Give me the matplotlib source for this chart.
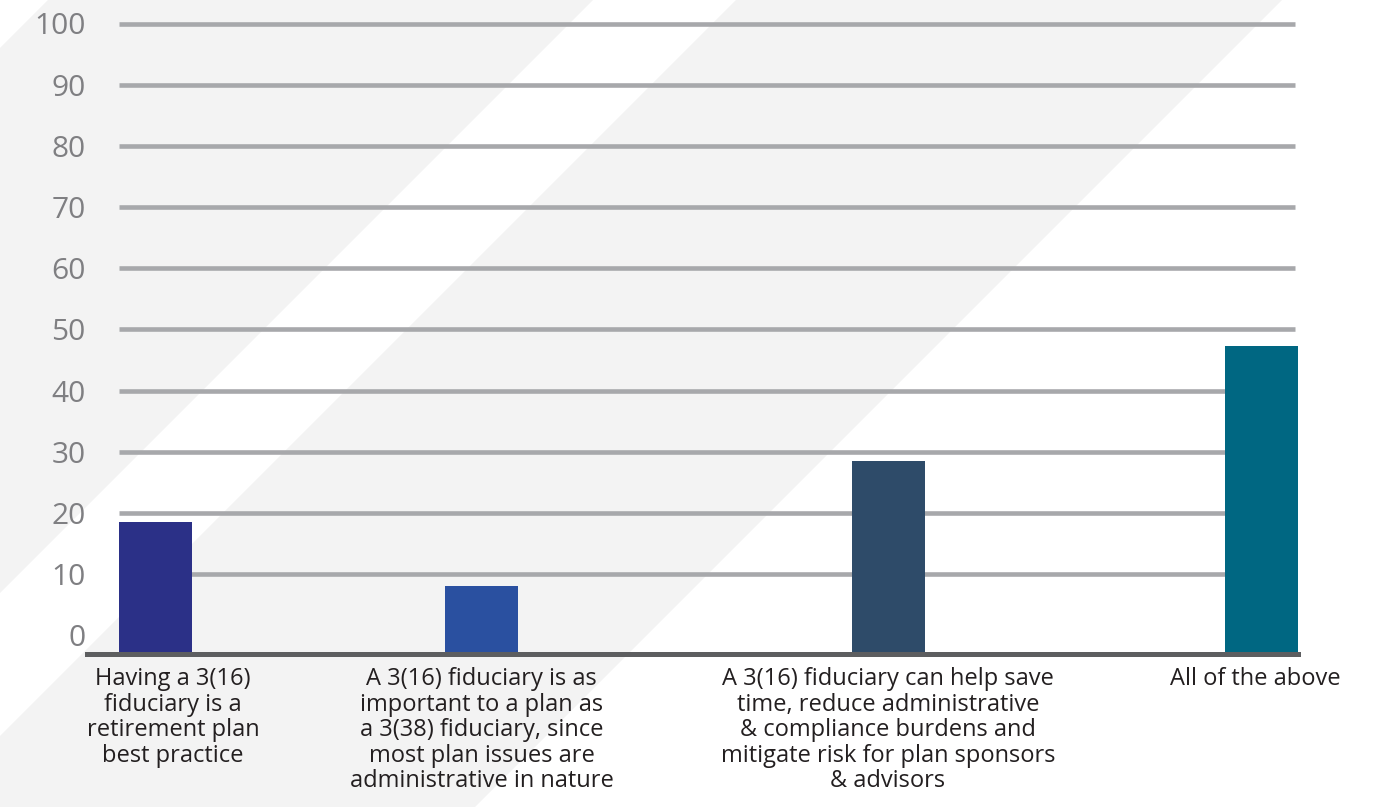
import matplotlib
matplotlib.use("Agg")
import matplotlib.pyplot as plt
from matplotlib.patches import Polygon

# ---- data ----
categories = [
    "Having a 3(16)\nfiduciary is a\nretirement plan\nbest practice",
    "A 3(16) fiduciary is as\nimportant to a plan as\na 3(38) fiduciary, since\nmost plan issues are\nadministrative in nature",
    "A 3(16) fiduciary can help save\ntime, reduce administrative\n& compliance burdens and\nmitigate risk for plan sponsors\n& advisors",
    "All of the above",
]
values = [18.5, 8.0, 28.5, 47.3]
yticks = [0, 10, 20, 30, 40, 50, 60, 70, 80, 90, 100]

# ---- layout / style ----
W, H = 1381, 807
bar_centers = [155.5, 481.5, 888.5, 1261.5]
label_centers = [173, 481.5, 888, 1255.5]
bar_width = 73
bar_colors = ["#2b3087", "#2a50a0", "#2e4b69", "#006782"]
grid_x0, grid_x1 = 119, 1295
ax_left, ax_right = 87, 1298
y_top_px, y_zero_px, y_base_px = 23.5, 635.2, 654.0
px_per_unit = (y_zero_px - y_top_px) / 100.0
ymin = -(y_base_px - y_zero_px) / px_per_unit

plt.rcParams['font.family'] = ['Open Sans', 'DejaVu Sans']

fig = plt.figure(figsize=(W / 100, H / 100), dpi=100)
fig.patch.set_facecolor("white")

# background diagonal stripes
bg = fig.add_axes([0, 0, 1, 1], zorder=0)
bg.set_xlim(0, W)
bg.set_ylim(H, 0)
bg.axis("off")
for c1, c2 in [(48, 593), (736, 1282)]:
    bg.add_patch(Polygon([(c1, 0), (c2, 0), (0, c2), (0, c1)],
                         closed=True, facecolor="#f3f3f3", edgecolor="none"))

ax = fig.add_axes([ax_left / W, (H - y_base_px) / H,
                   (ax_right - ax_left) / W, (y_base_px - y_top_px) / H], zorder=1)
ax.set_facecolor("none")
ax.set_xlim(ax_left, ax_right)
ax.set_ylim(ymin, 100)

# gridlines (no line at 0)
ax.hlines([t for t in yticks if t > 0], grid_x0, grid_x1, colors="#a7a8ab",
          linewidth=3.3, zorder=1, clip_on=False)

ax.bar(bar_centers, [v - ymin for v in values], bottom=ymin, width=bar_width,
       color=bar_colors, zorder=2)

for s in ["top", "right", "left"]:
    ax.spines[s].set_visible(False)
ax.spines["bottom"].set_color("#5d5e60")
ax.spines["bottom"].set_linewidth(3.6)
ax.spines["bottom"].set_zorder(3)

ax.set_yticks(yticks)
ax.set_yticklabels([str(t) for t in yticks], fontsize=21.5, color="#7f7f82")
ax.tick_params(axis="y", length=0, pad=1)

ax.set_xticks(label_centers)
ax.set_xticklabels(categories, fontsize=17, color="#231f20", linespacing=1.08,
                   ha="center", va="top")
ax.tick_params(axis="x", length=0, pad=9.5)

fig.savefig("out.png", dpi=100)
